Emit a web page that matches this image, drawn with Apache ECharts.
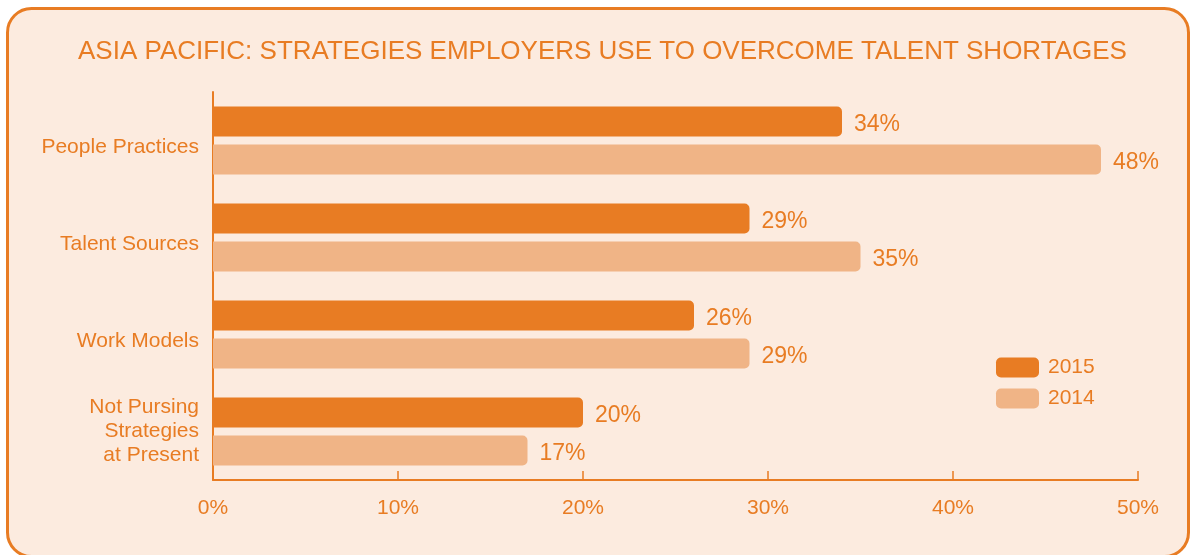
<!DOCTYPE html>
<html>
<head>
<meta charset="utf-8">
<script src="https://cdn.jsdelivr.net/npm/echarts@6/dist/echarts.min.js"></script>
<style>
html,body{margin:0;padding:0;background:#ffffff;}
#chart{width:1190px;height:555px;}
</style>
</head>
<body>
<div id="chart"></div>
<script>
const categories = ["People Practices", "Talent Sources", "Work Models", "Not Pursing\nStrategies\nat Present"];
const series2015 = [34, 29, 26, 20];
const series2014 = [48, 35, 29, 17];
const seriesNames = ["2015", "2014"];
const xTicks = [0, 10, 20, 30, 40, 50];

const ORANGE = "#E87C23";
const LIGHT = "#F0B486";
const FONT = "'Liberation Sans', Arial, sans-serif";

const chart = echarts.init(document.getElementById('chart'));
chart.setOption({
  backgroundColor: '#ffffff',
  animation: false,
  textStyle: { fontFamily: FONT },
  graphic: [{
    type: 'rect',
    z: -10,
    silent: true,
    shape: { x: 7.5, y: 8.5, width: 1181, height: 548, r: 24 },
    style: { fill: '#FCEBDF', stroke: ORANGE, lineWidth: 3 }
  }],
  title: {
    text: 'ASIA PACIFIC: STRATEGIES EMPLOYERS USE TO OVERCOME TALENT SHORTAGES',
    left: 73,
    top: 34,
    textStyle: { color: ORANGE, fontSize: 26, fontWeight: 'normal', fontFamily: FONT }
  },
  legend: {
    orient: 'vertical',
    left: 991,
    top: 352,
    itemWidth: 43,
    itemHeight: 20,
    itemGap: 10,
    icon: 'roundRect',
    data: seriesNames,
    textStyle: { color: ORANGE, fontSize: 21, fontFamily: FONT, padding: [0, 0, 0, 4] }
  },
  grid: { left: 213, right: 52, top: 92, bottom: 75, containLabel: false },
  xAxis: {
    type: 'value',
    min: xTicks[0],
    max: xTicks[xTicks.length - 1],
    interval: 10,
    axisLine: { show: true, lineStyle: { color: ORANGE, width: 2 } },
    axisTick: { show: true, inside: true, length: 9, lineStyle: { color: ORANGE, width: 1.5 } },
    splitLine: { show: false },
    axisLabel: { color: ORANGE, fontSize: 21, margin: 18, formatter: v => v + '%', fontFamily: FONT }
  },
  yAxis: {
    type: 'category',
    data: categories,
    inverse: true,
    axisLine: { show: true, lineStyle: { color: ORANGE, width: 2 } },
    axisTick: { show: false },
    axisLabel: {
      color: ORANGE, fontSize: 21, margin: 14, lineHeight: 24, align: 'right', fontFamily: FONT,
      formatter: v => v.indexOf('\n') >= 0 ? v : '{s|' + v + '}',
      rich: { s: { color: ORANGE, fontSize: 21, fontFamily: FONT, lineHeight: 24, padding: [14, 0, 0, 0] } }
    }
  },
  series: [
    {
      name: seriesNames[0], type: 'bar', data: series2015,
      barWidth: 30, barGap: '27%',
      itemStyle: { color: ORANGE, borderRadius: [0, 5, 5, 0] },
      label: { show: true, position: 'right', distance: 12, offset: [0, 3], color: ORANGE, fontSize: 23, formatter: p => p.value + '%', fontFamily: FONT }
    },
    {
      name: seriesNames[1], type: 'bar', data: series2014,
      barWidth: 30, barGap: '27%',
      itemStyle: { color: LIGHT, borderRadius: [0, 5, 5, 0] },
      label: { show: true, position: 'right', distance: 12, offset: [0, 3], color: ORANGE, fontSize: 23, formatter: p => p.value + '%', fontFamily: FONT }
    }
  ]
});
</script>
</body>
</html>
